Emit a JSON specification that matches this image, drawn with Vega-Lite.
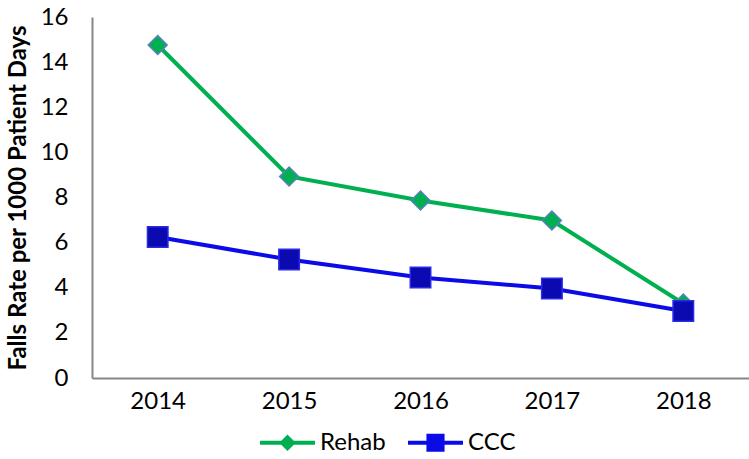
{
  "$schema": "https://vega.github.io/schema/vega-lite/v6.json",
  "width": 657,
  "height": 361,
  "autosize": {"type": "none"},
  "padding": {"left": 92, "top": 17, "right": 0, "bottom": 81},
  "background": "white",
  "config": {
    "view": {"stroke": null},
    "font": "Lato"
  },
  "data": {
    "values": [
      {"year": "2014", "series": "Rehab", "rate": 14.76},
      {"year": "2015", "series": "Rehab", "rate": 8.93},
      {"year": "2016", "series": "Rehab", "rate": 7.87},
      {"year": "2017", "series": "Rehab", "rate": 6.98},
      {"year": "2018", "series": "Rehab", "rate": 3.3},
      {"year": "2014", "series": "CCC", "rate": 6.25},
      {"year": "2015", "series": "CCC", "rate": 5.25},
      {"year": "2016", "series": "CCC", "rate": 4.45},
      {"year": "2017", "series": "CCC", "rate": 3.97},
      {"year": "2018", "series": "CCC", "rate": 2.97}
    ]
  },
  "encoding": {
    "x": {
      "field": "year", "type": "ordinal",
      "scale": {"type": "point", "padding": 0.5},
      "axis": {
        "title": null, "labelAngle": 0, "labelFontSize": 24, "labelColor": "#000000",
        "labelPadding": 11, "ticks": false, "domainColor": "#868686", "domainWidth": 2,
        "grid": false, "labelFont": "Lato"
      }
    },
    "y": {
      "field": "rate", "type": "quantitative",
      "scale": {"domain": [0, 16], "nice": false},
      "axis": {
        "title": "Falls Rate per 1000 Patient Days", "titleFontSize": 24, "titleFontWeight": "bold",
        "titleColor": "#000000", "titlePadding": 10, "titleFont": "Lato",
        "values": [0, 2, 4, 6, 8, 10, 12, 14, 16],
        "labelFontSize": 24, "labelColor": "#000000", "labelPadding": 24, "ticks": false,
        "domainColor": "#868686", "domainWidth": 2, "grid": false, "labelFont": "Lato"
      }
    }
  },
  "resolve": {"scale": {"shape": "independent", "color": "independent", "fill": "independent", "stroke": "independent", "size": "independent"}},
  "layer": [
    {
      "mark": {"type": "line", "strokeWidth": 4},
      "encoding": {
        "stroke": {
          "field": "series", "type": "nominal",
          "scale": {"domain": ["Rehab", "CCC"], "range": ["#00B050", "#0B0BE8"]},
          "legend": null
        },
        "detail": {"field": "series"}
      }
    },
    {
      "mark": {"type": "point", "filled": true, "opacity": 1, "strokeWidth": 1.5},
      "encoding": {
        "shape": {
          "field": "series", "type": "nominal",
          "scale": {"domain": ["Rehab", "CCC"], "range": ["diamond", "square"]},
          "legend": null
        },
        "size": {
          "field": "series", "type": "nominal",
          "scale": {"domain": ["Rehab", "CCC"], "range": [360, 420]},
          "legend": null
        },
        "fill": {
          "field": "series", "type": "nominal",
          "scale": {"domain": ["Rehab", "CCC"], "range": ["#00B050", "#0A0AB0"]},
          "legend": null
        },
        "stroke": {
          "field": "series", "type": "nominal",
          "scale": {"domain": ["Rehab", "CCC"], "range": ["#5B7FC0", "#2A2AE8"]},
          "legend": null
        }
      }
    },
    {
      "mark": {"type": "point", "filled": true, "opacity": 0},
      "encoding": {
        "shape": {
          "field": "series", "type": "nominal",
          "scale": {"domain": ["Rehab", "CCC"], "range": [
            "M-1,-0.075H1V0.075H-1Z M0,-0.3L0.3,0L0,0.3L-0.3,0Z",
            "M-1,-0.075H1V0.075H-1Z M-0.33,-0.33H0.33V0.33H-0.33Z"
          ]},
          "legend": {
            "title": null, "orient": "none", "legendX": 168, "legendY": 398,
            "direction": "horizontal", "symbolSize": 3025, "symbolOpacity": 1,
            "symbolStrokeWidth": 0, "labelFontSize": 24, "labelColor": "#000000",
            "labelOffset": 5, "columnPadding": 22, "labelFont": "Lato"
          }
        },
        "color": {
          "field": "series", "type": "nominal",
          "scale": {"domain": ["Rehab", "CCC"], "range": ["#00B050", "#0B0BE8"]}
        }
      }
    }
  ]
}
